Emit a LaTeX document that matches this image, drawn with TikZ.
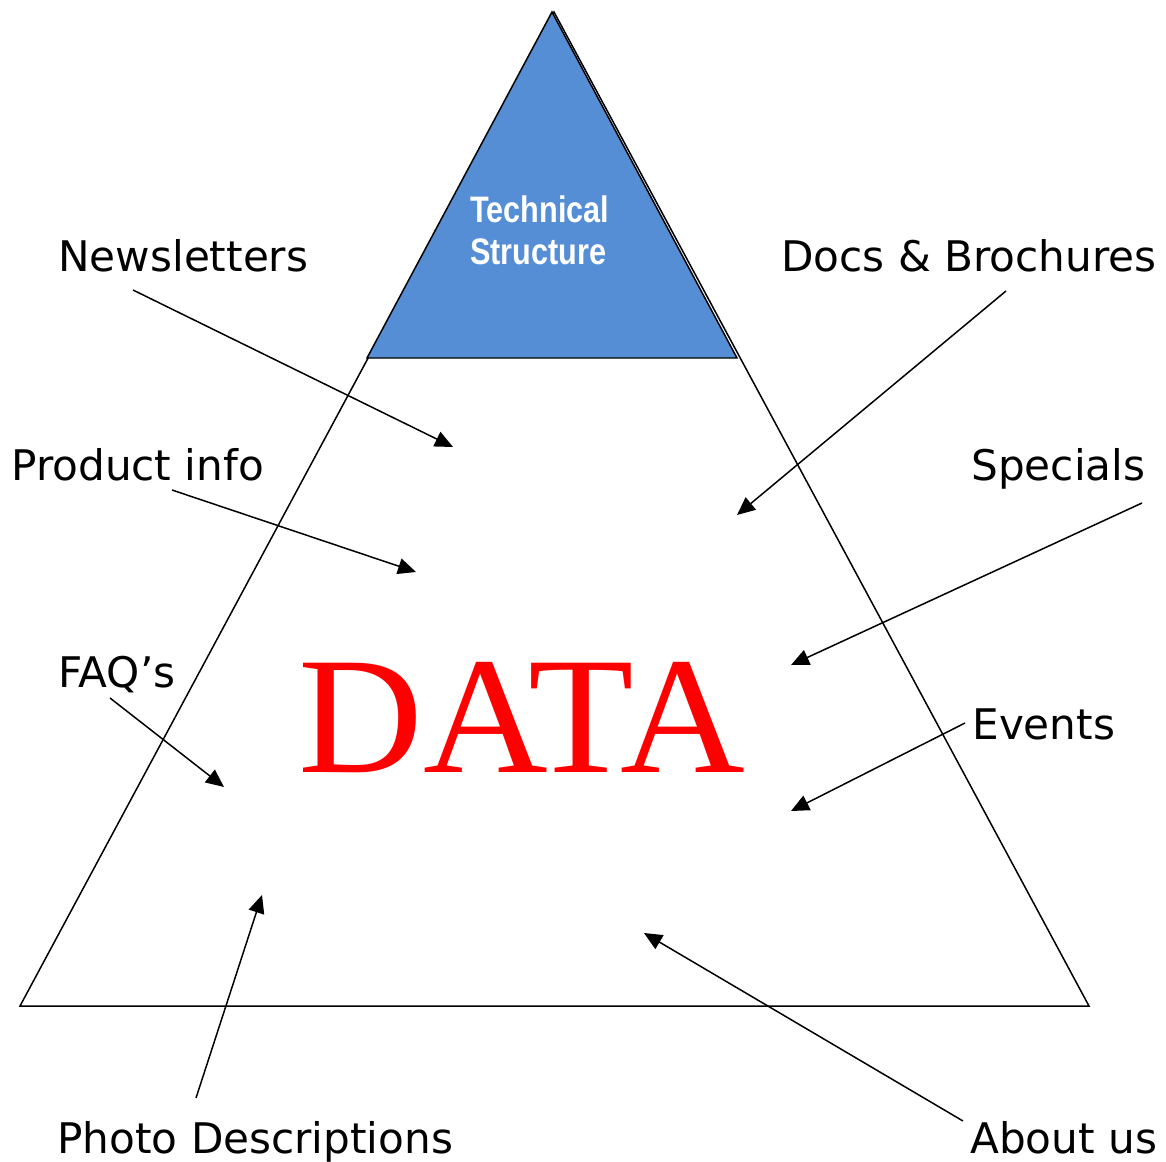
\documentclass[tikz,border=0pt]{standalone}
\usepackage{fontspec}
\usepackage{xcolor}
\usepackage{tikz}
\usetikzlibrary{arrows.meta,calc}
\setmainfont{DejaVu Sans}
\newfontfamily\narrowfont{Liberation Sans}
\newfontfamily\serifdata{Liberation Serif}
\definecolor{techblue}{RGB}{85,142,213}
\definecolor{datared}{RGB}{255,0,0}

\begin{document}
\begin{tikzpicture}[x=0.02cm,y=-0.02cm,
    lbl/.style={anchor=base west, inner sep=0pt, font=\fontsize{24}{28}\selectfont},
    arr/.style={line width=0.85pt, -{Triangle[length=0.36cm,width=0.32cm]}}]
    \useasboundingbox (0,0) rectangle (1166,1162);

    % Data pyramid (big) and technical top
    \draw[line width=0.85pt] (554,12) -- (1089,1006) -- (20,1006) -- cycle;
    \draw[line width=0.85pt, fill=techblue] (552,12) -- (737,358) -- (367,358) -- cycle;
    \node[anchor=north west, inner sep=0pt, align=left, text=white, xscale=0.83,
          font=\narrowfont\bfseries\fontsize{21}{24}\selectfont] (tech) at (470,195) {Technical\\Structure};
    \node[anchor=base west, inner sep=0pt, text=datared, xscale=1.035,
          font=\serifdata\fontsize{95}{100}\selectfont] (data) at (298,772) {DATA};

    % Labels
    \node[lbl] (news) at (58,272) {Newsletters};
    \node[lbl] (docs) at (781,272) {Docs \& Brochures};
    \node[lbl] (prod) at (11,480) {Product info};
    \node[lbl] (spec) at (971,480) {Specials};
    \node[lbl] (faq) at (58,687) {FAQ’s};
    \node[lbl] (evts) at (972,739) {Events};
    \node[lbl] (photo) at (57,1153) {Photo Descriptions};
    \node[lbl] (about) at (970,1153) {About us};

    % Arrow ends
    \coordinate (newsA) at (133,290);  \coordinate (newsB) at (453,447);
    \coordinate (docsA) at (1006,291); \coordinate (docsB) at (737,515);
    \coordinate (prodA) at (172,490);  \coordinate (prodB) at (416,572);
    \coordinate (specA) at (1142,503); \coordinate (specB) at (791,665);
    \coordinate (faqA) at (110,698);   \coordinate (faqB) at (224,787);
    \coordinate (evtsA) at (965,723);  \coordinate (evtsB) at (791,811);
    \coordinate (photoA) at (196,1098); \coordinate (photoB) at (262,895);
    \coordinate (aboutA) at (963,1121); \coordinate (aboutB) at (644,933);

    % Arrows into the data
    \draw[arr] (newsA) -- (newsB);
    \draw[arr] (docsA) -- (docsB);
    \draw[arr] (prodA) -- (prodB);
    \draw[arr] (specA) -- (specB);
    \draw[arr] (faqA) -- (faqB);
    \draw[arr] (evtsA) -- (evtsB);
    \draw[arr] (photoA) -- (photoB);
    \draw[arr] (aboutA) -- (aboutB);
\end{tikzpicture}
\end{document}
